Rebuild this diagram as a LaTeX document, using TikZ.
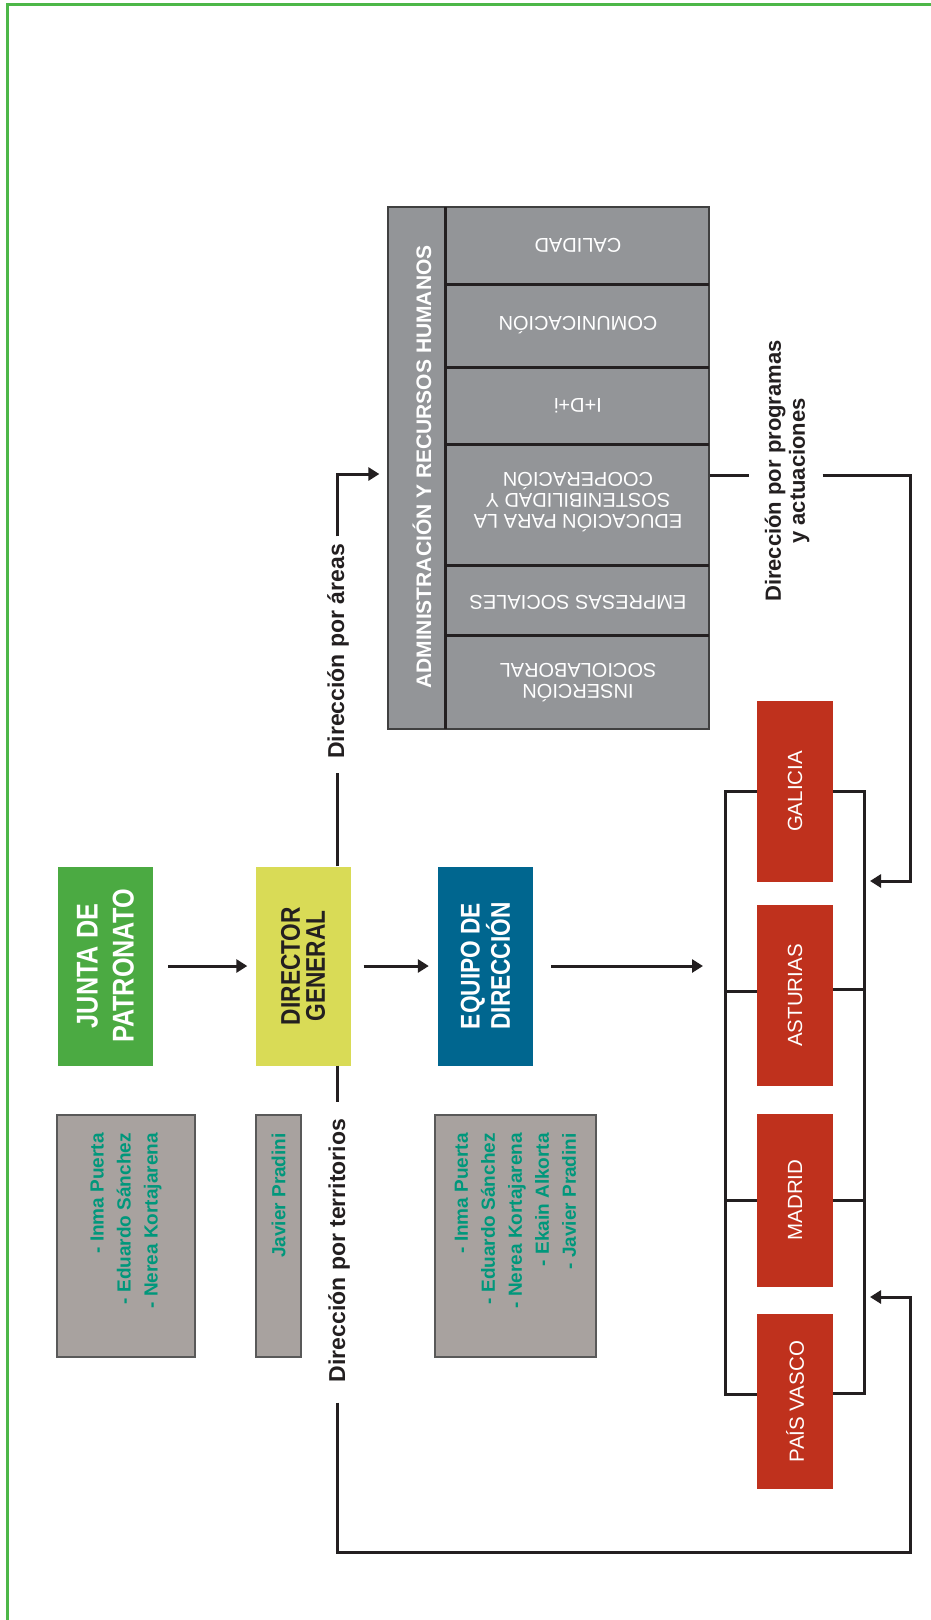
\documentclass[tikz,border=0pt]{standalone}
\usepackage{fontspec}
\usepackage{graphicx}
\setmainfont{Liberation Sans}
\newfontfamily\condfont[FakeStretch=0.84]{Liberation Sans}
\usetikzlibrary{arrows.meta}

\definecolor{framegreen}{HTML}{4DB748}
\definecolor{juntagreen}{HTML}{4BAA42}
\definecolor{diryellow}{HTML}{D9DB56}
\definecolor{equipoblue}{HTML}{00668F}
\definecolor{namegray}{HTML}{A8A29F}
\definecolor{nameteal}{HTML}{00977B}
\definecolor{areagray}{HTML}{939598}
\definecolor{regionred}{HTML}{BF311D}
\definecolor{linecol}{HTML}{231F20}

\newcommand{\vlines}[1]{\rotatebox{90}{\parbox{190pt}{\centering #1}}}

\begin{document}
\begin{tikzpicture}[x=1pt, y=-1pt,
  title/.style={inner sep=0pt, minimum width=95, minimum height=199},
  namebox/.style={draw=black!65, line width=1.3pt, fill=namegray, inner sep=0pt, minimum height=242},
  names/.style={inner sep=0pt, rotate=90, anchor=east, align=right, text=nameteal, font=\bfseries\fontsize{19}{27}\selectfont},
  lbl/.style={inner sep=0pt, rotate=90, text=linecol, font=\bfseries\fontsize{23}{24}\selectfont},
  cell/.style={inner sep=0pt, rotate=180, align=center, text=white, font=\fontsize{20}{21}\selectfont},
  region/.style={fill=regionred, inner sep=0pt, minimum width=76, text=white, font=\fontsize{20.5}{24}\selectfont},
  conn/.style={draw=linecol, line width=3pt},
  arrow/.style={conn, -{Triangle[length=11pt, width=13pt]}}]

\useasboundingbox (0,0) rectangle (931,1620);
\draw[framegreen, line width=2.2pt] (7.5,1620) -- (7.5,4.5) -- (931,4.5);

% main chain
\node[title, fill=juntagreen, text=white, font=\condfont\bfseries\fontsize{30}{36}\selectfont] (junta) at (105.5,966) {\vlines{JUNTA DE\\PATRONATO}};
\node[title, fill=diryellow, text=linecol, font=\condfont\bfseries\fontsize{27}{25}\selectfont] (director) at (303,966) {\vlines{DIRECTOR\\GENERAL}};
\node[title, fill=equipoblue, text=white, font=\condfont\bfseries\fontsize{27}{24}\selectfont] (equipo) at (485.5,966) {\vlines{EQUIPO DE\\DIRECCIÓN}};

% people
\node[namebox, minimum width=138] (pjunta) at (126,1236) {};
\node[namebox, minimum width=45] (pdirector) at (278.5,1236) {};
\node[namebox, minimum width=161] (pequipo) at (515.5,1236) {};
\node[names] (njunta) at (126,1133) {- Inma Puerta\\- Eduardo Sánchez\\- Nerea Kortajarena};
\node[names] (ndirector) at (278.5,1133) {Javier Pradini};
\node[names] (nequipo) at (515.5,1133) {- Inma Puerta\\- Eduardo Sánchez\\- Nerea Kortajarena\\- Ekain Alkorta\\- Javier Pradini};

% areas
\node[draw=black!75, line width=1.3pt, fill=areagray, minimum width=321, minimum height=522, inner sep=0pt] (areas) at (548.5,468) {};
\draw[conn] (445,207) -- (445,729);
\foreach \y in {284,367,444,565,635}
  \draw[conn] (445,\y) -- (709,\y);
\node[inner sep=0pt, rotate=90, anchor=base, text=white, font=\bfseries\fontsize{21}{24}\selectfont] (admin) at (431,467) {ADMINISTRACIÓN Y RECURSOS HUMANOS};
\node[cell] (calidad) at (578,245.5) {CALIDAD};
\node[cell] (comunicacion) at (578,325.5) {COMUNICACIÓN};
\node[cell] (idi) at (578,405.5) {I+D+i};
\node[cell] (educacion) at (578,502) {EDUCACIÓN PARA LA\\SOSTENIBILIDAD Y\\COOPERACIÓN};
\node[cell] (empresas) at (578,602) {EMPRESAS SOCIALES};
\node[cell] (insercion) at (578,683) {INSERCIÓN\\SOCIOLABORAL};

% territories
\node[region, minimum height=181] (galicia) at (795,791.5) {\rotatebox{90}{GALICIA}};
\node[region, minimum height=181] (asturias) at (795,995.5) {\rotatebox{90}{ASTURIAS}};
\node[region, minimum height=173] (madrid) at (795,1200) {\rotatebox{90}{MADRID}};
\node[region, minimum height=175] (paisvasco) at (795,1401.5) {\rotatebox{90}{PAÍS VASCO}};

\node[lbl, anchor=base] (porareas) at (344,651.5) {Dirección por áreas};
\node[lbl, anchor=base] (porterritorios) at (345,1250.5) {Dirección por territorios};
\node[lbl, align=center, font=\bfseries\fontsize{22}{24}\selectfont] (porprogramas) at (787,471) {Dirección por programas\\y actuaciones};

\coordinate (eqend) at (703,966);
\coordinate (lbend) at (725,1394);
\coordinate (rbend) at (864,1393);
\coordinate (progcorner) at (910,881);
\coordinate (progin) at (864,881);
\coordinate (terrcorner) at (910,1552);
\coordinate (terrin) at (864,1297);

\draw[arrow, shorten <=15pt, shorten >=8pt] (junta.east) -- (director.west);
\draw[arrow, shorten <=13pt, shorten >=9pt] (director.east) -- (equipo.west);
\draw[arrow, shorten <=18pt] (equipo.east) -- (eqend);

\draw[conn] ([xshift=34pt]director.north) -- ++(0,-93);
\draw[arrow, shorten >=8pt] ([xshift=34pt]director.north) ++(0,-330) |- ([yshift=-6pt]areas.west);
\draw[conn] ([xshift=34pt]director.south) -- ++(0,36);
\draw[arrow, shorten >=6pt] ([xshift=34pt]director.south) ++(0,337) |- (terrcorner) |- (terrin);
\draw[conn] ([yshift=-7pt]areas.east) -- ++(39,0);
\draw[arrow, shorten >=6pt] ([yshift=-7pt]areas.east) ++(113,0) -| (progcorner) -- (progin);

\draw[conn] (galicia.west) -| (lbend) -- (lbend -| paisvasco.west);
\draw[conn] ([yshift=4pt]asturias.west) -| (lbend);
\draw[conn] (madrid.west) -| (lbend);
\draw[conn] (galicia.east) -| (rbend) -- (rbend -| paisvasco.east);
\draw[conn] ([yshift=6pt]asturias.east) -| (rbend);
\draw[conn] (madrid.east) -| (rbend);
\end{tikzpicture}
\end{document}
